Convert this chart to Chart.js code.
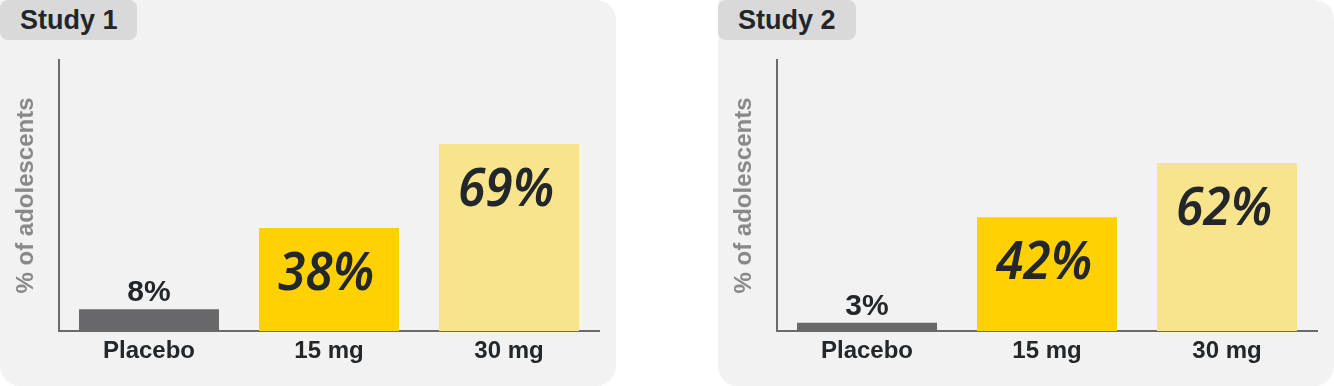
<!DOCTYPE html>
<html>
<head>
<meta charset="utf-8">
<script src="https://cdn.jsdelivr.net/npm/chart.js@4"></script>
<style>
  html, body { margin: 0; padding: 0; background: #fff; }
  body { width: 1334px; height: 386px; position: relative; overflow: hidden; }
  .panel {
    position: absolute; top: 0; width: 616px; height: 386px;
    background: #f2f2f2; border-radius: 0 20px 20px 20px;
  }
  .panel canvas { position: absolute; left: 0; top: 0; }
  .tab {
    position: absolute; left: 0; top: 0; width: 137px; height: 40px;
    background: #d9d9d9; border-radius: 8px; box-sizing: border-box;
    font: bold 27px "Liberation Sans", Arial, sans-serif; color: #222629;
    padding-left: 20px; line-height: 41px;
  }
</style>
</head>
<body>
<div class="panel" style="left:0"><div class="tab" id="tab0"></div><canvas id="chart0" width="616" height="386"></canvas></div>
<div class="panel" style="left:718px"><div class="tab" id="tab1" style="width:138px"></div><canvas id="chart1" width="616" height="386"></canvas></div>
<script>
// Data
const studies    = ['Study 1', 'Study 2'];
const categories = ['Placebo', '15 mg', '30 mg'];
const study1     = [8, 38, 69];
const study2     = [3, 42, 62];
const yTitle     = '% of adolescents';
const yMax       = 100;

// Styling
const barColors = ['#68686a', '#ffd100', '#f7e48c'];
const axisColor = '#6b6b6b';
const inkColor  = '#23272a';

// Value labels: plain bold above the placebo bar, "handwritten" inside the others
const valueLabels = {
  id: 'valueLabels',
  afterDatasetsDraw(chart) {
    const ctx = chart.ctx;
    const meta = chart.getDatasetMeta(0);
    const values = chart.data.datasets[0].data;
    meta.data.forEach((bar, i) => {
      const txt = values[i] + '%';
      ctx.save();
      ctx.fillStyle = inkColor;
      ctx.textAlign = 'center';
      ctx.textBaseline = 'alphabetic';
      if (i === 0) {
        ctx.font = 'bold 30px "Liberation Sans", Arial, sans-serif';
        ctx.fillText(txt, bar.x, bar.y - 8);
      } else {
        ctx.translate(bar.x - 3, bar.y + 62);
        ctx.scale(1.08, 1.14);
        ctx.font = 'italic 600 46px "Noto Sans", sans-serif';
        ctx.fillText(txt, 0, 0);
      }
      ctx.restore();
    });
  }
};

function buildChart(idx, values) {
  document.getElementById('tab' + idx).textContent = studies[idx];
  const ctx = document.getElementById('chart' + idx).getContext('2d');
  return new Chart(ctx, {
    type: 'bar',
    data: {
      labels: categories,
      datasets: [{
        data: values,
        backgroundColor: barColors,
        borderWidth: 0,
        barPercentage: 140 / 180,
        categoryPercentage: 1
      }]
    },
    plugins: [valueLabels],
    options: {
      responsive: false,
      animation: false,
      layout: { padding: { top: 60, right: 17, left: 0, bottom: 0 } },
      plugins: { legend: { display: false }, tooltip: { enabled: false } },
      scales: {
        x: {
          grid: { display: false, drawTicks: false },
          border: { display: true, color: axisColor, width: 2 },
          ticks: {
            color: inkColor, padding: 6,
            font: { family: '"Liberation Sans", Arial, sans-serif', size: 24, weight: 'bold' }
          },
          afterFit(scale) { scale.height = 55; }
        },
        y: {
          min: 0, max: yMax,
          grid: { display: false, drawTicks: false },
          border: { display: true, color: axisColor, width: 2 },
          ticks: { display: false },
          title: {
            display: true, text: yTitle, color: '#88898a',
            padding: { top: 14, bottom: 0 },
            font: { family: '"Liberation Sans", Arial, sans-serif', size: 24, weight: 'bold', lineHeight: 1 }
          },
          afterFit(scale) { scale.width = 59; }
        }
      }
    }
  });
}

buildChart(0, study1);
buildChart(1, study2);
</script>
</body>
</html>
